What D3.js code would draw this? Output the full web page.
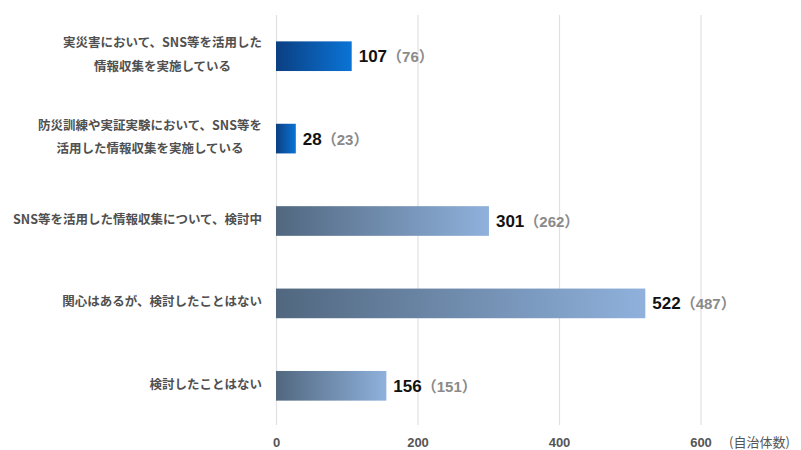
<!DOCTYPE html>
<html lang="ja">
<head>
<meta charset="utf-8">
<script src="https://cdn.jsdelivr.net/npm/d3@7"></script>
<style>
  html, body { margin: 0; padding: 0; background: #ffffff; }
  svg { display: block; }
</style>
</head>
<body>
<svg id="chart" width="801" height="450"></svg>
<script>
// Survey answers (one row per bar; multi-line labels are split into lines)
const categories = [
  ["実災害において、SNS等を活用した", "情報収集を実施している"],
  ["防災訓練や実証実験において、SNS等を", "活用した情報収集を実施している"],
  ["SNS等を活用した情報収集について、検討中"],
  ["関心はあるが、検討したことはない"],
  ["検討したことはない"]
];
// Number of municipalities (current survey)
const values = [107, 28, 301, 522, 156];
// Previous survey, shown in parentheses
const prevValues = [76, 23, 262, 487, 151];
// Rows that already use SNS get the blue fill, the rest the slate fill
const fillGroup = ["active", "active", "other", "other", "other"];
const xTicks = [0, 200, 400, 600];
const unitLabel = "(自治体数)";

const svg = d3.select("#chart");

const defs = svg.append("defs");
const gradients = {
  active: ["#0b3f82", "#0a74d6"],
  other: ["#51677f", "#8fb1dc"]
};
Object.entries(gradients).forEach(([key, [c0, c1]]) => {
  const g = defs.append("linearGradient")
    .attr("id", "grad-" + key)
    .attr("x1", "0%").attr("x2", "100%")
    .attr("y1", "0%").attr("y2", "0%");
  g.append("stop").attr("offset", "0%").attr("stop-color", c0);
  g.append("stop").attr("offset", "100%").attr("stop-color", c1);
});

const x = d3.scaleLinear().domain([0, 600]).range([276, 700.5]);
const y = d3.scaleBand()
  .domain(d3.range(categories.length))
  .range([15, 427])
  .paddingInner(0.64)
  .paddingOuter(0.32);

const gridTop = 15, gridBottom = 425;
const tickBaseline = 446.5;

// Axis with full-height gridlines
const axis = svg.append("g")
  .attr("transform", `translate(0,${gridBottom})`)
  .call(d3.axisBottom(x)
    .tickValues(xTicks)
    .tickSize(-(gridBottom - gridTop))
    .tickPadding(0)
    .tickFormat(d3.format("d")));
axis.select(".domain").remove();
axis.selectAll(".tick line")
  .attr("stroke", "#e1e1e1")
  .attr("stroke-width", 1.2);
axis.selectAll(".tick text")
  .attr("y", tickBaseline - gridBottom)
  .attr("dy", null)
  .attr("fill", "#555")
  .attr("font-family", "'Liberation Sans', Arial, sans-serif")
  .attr("font-weight", "bold")
  .attr("font-size", 13);

svg.append("text")
  .attr("x", 729)
  .attr("y", tickBaseline)
  .attr("fill", "#555")
  .attr("font-family", "'Noto Sans CJK JP', sans-serif")
  .attr("font-size", 13)
  .text(unitLabel);

// Bars
svg.append("g").selectAll("rect")
  .data(values)
  .join("rect")
  .attr("x", x(0))
  .attr("y", (d, i) => y(i))
  .attr("width", d => x(d) - x(0))
  .attr("height", y.bandwidth())
  .attr("fill", (d, i) => `url(#grad-${fillGroup[i]})`);

// Value labels: current count in bold, previous count in grey parentheses
const valueLabels = svg.append("g").selectAll("text")
  .data(values)
  .join("text")
  .attr("x", d => x(d) + 7)
  .attr("y", (d, i) => y(i) + y.bandwidth() / 2 + 6)
  .attr("font-family", "'Liberation Sans', Arial, 'Noto Sans CJK JP', sans-serif")
  .attr("font-weight", "bold");
valueLabels.append("tspan")
  .attr("font-size", 17)
  .attr("fill", "#111")
  .text(d => d);
valueLabels.append("tspan")
  .attr("font-size", 15)
  .attr("fill", "#8a8a8a")
  .text((d, i) => `（${prevValues[i]}）`);

// Category labels: centred block, right edge aligned next to the axis
const labelRight = 262;
const lineGap = 23.5;
categories.forEach((lines, i) => {
  const cy = y(i) + y.bandwidth() / 2 - 1.5;
  const g = svg.append("g");
  const texts = lines.map((line, k) => g.append("text")
    .attr("y", cy + (k - (lines.length - 1) / 2) * lineGap)
    .attr("dy", "0.35em")
    .attr("text-anchor", "middle")
    .attr("fill", "#505050")
    .attr("font-family", "'Noto Sans CJK JP', sans-serif")
    .attr("font-weight", "bold")
    .attr("font-size", 12.5)
    .text(line));
  const maxW = d3.max(texts, t => t.node().getComputedTextLength());
  texts.forEach(t => t.attr("x", labelRight - maxW / 2));
});
</script>
</body>
</html>
